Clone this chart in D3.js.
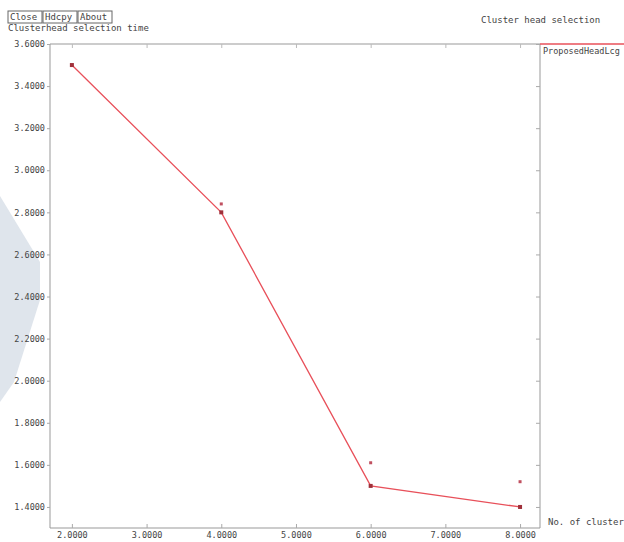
<!DOCTYPE html>
<html>
<head>
<meta charset="utf-8">
<script src="https://d3js.org/d3.v7.min.js"></script>
<style>
  body { margin: 0; background: #fff; }
  text { font-family: "DejaVu Sans Mono", monospace; fill: #444; }
</style>
</head>
<body>
<div id="container"></div>
<script>
// data
const clusters   = [2, 4, 6, 8];
const headTime   = [3.5, 2.8, 1.5, 1.4];
const extraTime  = [null, 2.84, 1.61, 1.52];   // loose dots next to the line
const xTicks = [2, 3, 4, 5, 6, 7, 8];
const yTicks = [1.4, 1.6, 1.8, 2.0, 2.2, 2.4, 2.6, 2.8, 3.0, 3.2, 3.4, 3.6];
const buttons = ["Close", "Hdcpy", "About"];

const width = 624, height = 542;
const margin = { top: 44, right: 84, bottom: 14, left: 50 };

const svg = d3.select('#container').append('svg')
  .attr('width', width).attr('height', height);

// faint watermark at the left edge
svg.append('path')
  .attr('d', 'M0,196 L40,262 L40,300 L14,382 L0,402 Z')
  .attr('fill', '#dfe5ec');

const x = d3.scaleLinear()
  .domain([1.707, 8.267])
  .range([margin.left, width - margin.right]);
const y = d3.scaleLinear()
  .domain([1.3, 3.6])
  .range([height - margin.bottom, margin.top]);

const x0 = margin.left, x1 = width - margin.right;
const y0 = height - margin.bottom, y1 = margin.top;

// frame
[[x0, y1, x1, y1], [x0, y1, x0, y0], [x1, y1, x1, y0], [x0, y0, x1, y0]].forEach(s => {
  svg.append('line').attr('x1', s[0]).attr('y1', s[1]).attr('x2', s[2]).attr('y2', s[3])
    .attr('stroke', '#999');
});

// axes
const xAxis = d3.axisBottom(x).tickValues(xTicks).tickFormat(d3.format('.4f'))
  .tickSize(-4).tickPadding(4);
const gx = svg.append('g').attr('transform', `translate(0,${y0})`).call(xAxis);
gx.select('.domain').remove();
gx.selectAll('line').attr('stroke', '#aaa');
gx.selectAll('text').attr('font-size', 8.5).attr('fill', '#444');

const yAxis = d3.axisLeft(y).tickValues(yTicks).tickFormat(d3.format('.4f'))
  .tickSize(3).tickPadding(2);
const gy = svg.append('g').attr('transform', `translate(${x0},0)`).call(yAxis);
gy.select('.domain').remove();
gy.selectAll('line').attr('stroke', '#aaa');
gy.selectAll('text').attr('font-size', 8.5).attr('fill', '#444');

// small tick marks on the right edge
const gr = svg.append('g').attr('transform', `translate(${x1},0)`)
  .call(d3.axisRight(y).tickValues(yTicks).tickSize(-4).tickFormat(''));
gr.select('.domain').remove();
gr.selectAll('line').attr('stroke', '#aaa');

// top edge tick marks
const gt = svg.append('g').attr('transform', `translate(0,${y1})`)
  .call(d3.axisTop(x).tickValues(xTicks).tickSize(-4).tickFormat(''));
gt.select('.domain').remove();
gt.selectAll('line').attr('stroke', '#bbb');

// series
const pts = clusters.map((c, i) => ({ c, v: headTime[i] }));
svg.append('path')
  .datum(pts)
  .attr('fill', 'none')
  .attr('stroke', '#e8505a')
  .attr('stroke-width', 1.3)
  .attr('d', d3.line().x(d => x(d.c)).y(d => y(d.v)));

svg.selectAll('rect.pt').data(pts).enter().append('rect')
  .attr('class', 'pt')
  .attr('x', d => x(d.c) - 2).attr('y', d => y(d.v) - 2)
  .attr('width', 4).attr('height', 4)
  .attr('fill', '#a0303a');

const extras = clusters.map((c, i) => ({ c, v: extraTime[i] })).filter(d => d.v != null);
svg.selectAll('rect.ex').data(extras).enter().append('rect')
  .attr('class', 'ex')
  .attr('x', d => x(d.c) - 1.5).attr('y', d => y(d.v) - 1.5)
  .attr('width', 3).attr('height', 3)
  .attr('fill', '#c05060');

// legend
svg.append('line').attr('x1', x1).attr('x2', width).attr('y1', y1).attr('y2', y1)
  .attr('stroke', '#e8505a').attr('stroke-width', 1.5);
svg.append('text').attr('x', x1 + 3).attr('y', y1 + 10)
  .attr('font-size', 8.5).text('ProposedHeadLcg');

// titles
svg.append('text').attr('x', 481).attr('y', 23).attr('font-size', 9)
  .text('Cluster head selection');
svg.append('text').attr('x', 548).attr('y', y0 - 3).attr('font-size', 9)
  .text('No. of cluster');
svg.append('text').attr('x', 8).attr('y', 31).attr('font-size', 9)
  .text('Clusterhead selection time');

// buttons
let bx = 8;
buttons.forEach(b => {
  const w = b.length * 6 + 4;
  svg.append('rect').attr('x', bx).attr('y', 11).attr('width', w).attr('height', 12)
    .attr('fill', '#fff').attr('stroke', '#666');
  svg.append('text').attr('x', bx + 2).attr('y', 20).attr('font-size', 9).text(b);
  bx += w + 1;
});
</script>
</body>
</html>
